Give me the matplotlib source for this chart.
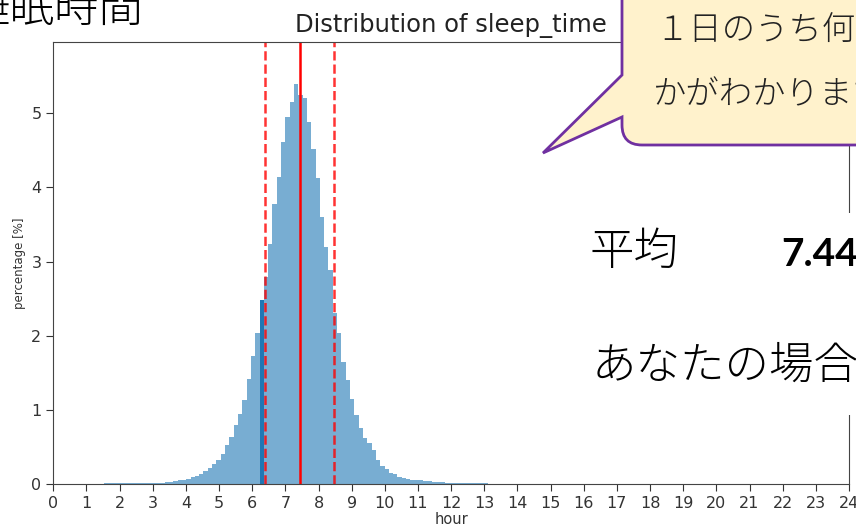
import numpy as np
import matplotlib.pyplot as plt
from matplotlib.path import Path
from matplotlib.patches import PathPatch, Rectangle
from matplotlib.transforms import Affine2D

# histogram of sleep time (percentage per bin)
bin_start = 1.54
bin_width = 0.13
pct = [
    0.01, 0.01, 0.01, 0.01, 0.01, 0.01, 0.01, 0.01, 0.01, 0.01, 0.01,
    0.02, 0.02, 0.02, 0.03, 0.03, 0.04, 0.05, 0.06, 0.07, 0.09, 0.11,
    0.13, 0.17, 0.21, 0.27, 0.33, 0.40, 0.53, 0.64, 0.80, 0.95, 1.13,
    1.42, 1.72, 2.03,
    2.48, 2.79, 3.24, 3.78, 4.14, 4.61, 4.95, 5.15, 5.40, 5.24, 5.20,
    4.88, 4.52, 4.12, 3.60, 3.20, 2.88, 2.30, 2.03, 1.65, 1.40, 1.15,
    0.93, 0.75,
    0.62, 0.55, 0.46, 0.32, 0.24, 0.20, 0.15, 0.13, 0.10, 0.08, 0.07,
    0.06, 0.05, 0.05, 0.04, 0.04, 0.03, 0.03, 0.03, 0.02, 0.02, 0.02,
    0.02, 0.02, 0.01, 0.01, 0.01, 0.01, 0.01,
]
my_bin = 36          # index of "your" bin
mean_h = 7.44
std_h = 1.04

bin_left = np.round(bin_start + bin_width * np.arange(len(pct)), 3)

W, H = 856, 528
fig = plt.figure(figsize=(W / 100, H / 100), dpi=100)
# pixel coords (y from top) -> figure
px = Affine2D().scale(1 / W, -1 / H).translate(0, 1) + fig.transFigure

ax = fig.add_axes([53.3 / W, 1 - 484 / H, (849 - 53.3) / W, (484 - 42) / H])
ax.bar(bin_left, pct, width=bin_width, align='edge', color='#1f77b4', alpha=0.6)
ax.bar(bin_left[my_bin], pct[my_bin], width=bin_width, align='edge', color='#1f77b4')
ax.axvline(mean_h, color='red', lw=1.8)
ax.axvline(mean_h - std_h, color='red', lw=1.8, ls='--', alpha=0.8)
ax.axvline(mean_h + std_h, color='red', lw=1.8, ls='--', alpha=0.8)

ax.set_xlim(0, 24)
ax.set_ylim(0, 5.96)
ax.set_xticks(range(25))
ax.set_yticks(range(6))
ax.tick_params(labelsize=11.5, colors='#333333', length=5)
for s in ax.spines.values():
    s.set_color('#444444')
ax.set_xlabel('hour', fontsize=10.5, color='#333333', labelpad=1)
ax.set_ylabel('percentage [%]', fontsize=8.5, color='#333333')
ax.set_title('Distribution of sleep_time', fontsize=17.5, color='#222222', pad=7)

# slide overlay
jp = ['Noto Sans CJK JP', 'DejaVu Sans']
fig.text(-35 / W, 1 - 22 / H, '睡眠時間', family=jp, fontsize=32, fontweight='light',
         va='baseline', ha='left')

# white text box of the slide hides part of the right spine
fig.patches.append(Rectangle((575, 213), 300, 202, transform=px, facecolor='white',
                             edgecolor='none', zorder=4))

verts = [(622, -10), (622, 75), (543, 153), (622, 117), (622, 125),
         (622, 145), (642, 145), (870, 145), (870, -10), (622, -10)]
codes = [Path.MOVETO, Path.LINETO, Path.LINETO, Path.LINETO, Path.LINETO,
         Path.CURVE3, Path.CURVE3, Path.LINETO, Path.LINETO, Path.CLOSEPOLY]
fig.patches.append(PathPatch(Path(verts, codes), transform=px, facecolor='#FFF2CC',
                             edgecolor='#7030A0', lw=2, zorder=5))
fig.text(655 / W, 1 - 32 / H, '１日のうち何時間', family=jp, fontsize=24, fontweight='light',
         va='center', ha='left', color='#222222', zorder=6)
fig.text(653 / W, 1 - 95 / H, 'かがわかります', family=jp, fontsize=24, fontweight='light',
         va='center', ha='left', color='#222222', zorder=6)

fig.text(590 / W, 1 - 252 / H, '平均', family=jp, fontsize=32, fontweight='light',
         va='center', ha='left', zorder=6)
fig.text(781 / W, 1 - 255 / H, '7.44', family=['Lato', 'DejaVu Sans'], fontsize=28,
         fontweight='bold', va='center', ha='left', zorder=6)
fig.text(592 / W, 1 - 366 / H, 'あなたの場合', family=jp, fontsize=32, fontweight='light',
         va='center', ha='left', zorder=6)

fig.savefig('out.png', dpi=100)
